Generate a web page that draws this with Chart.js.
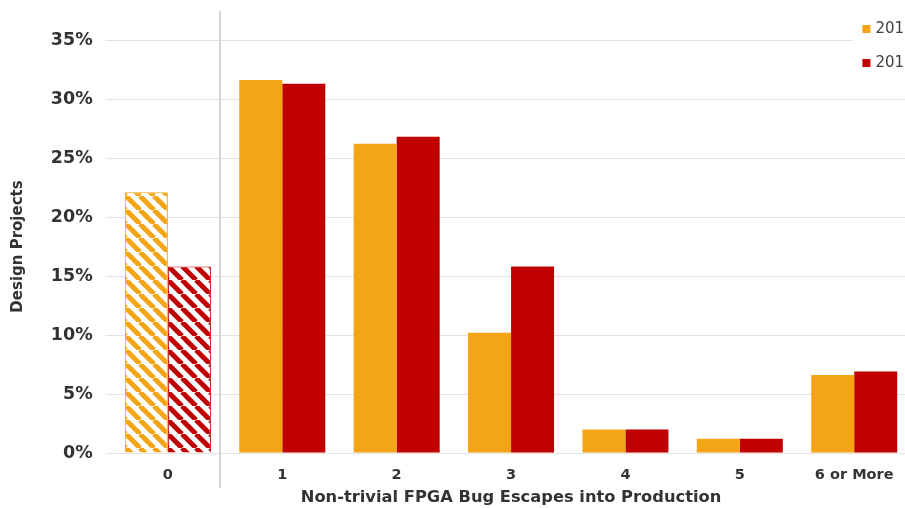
<!DOCTYPE html>
<html>
<head>
<meta charset="utf-8">
<script src="https://cdn.jsdelivr.net/npm/chart.js@4.4.1/dist/chart.umd.min.js"></script>
<style>
  html, body { margin: 0; padding: 0; background: #fff; overflow: hidden; }
  #wrap { width: 930px; height: 508px; position: relative; }
</style>
</head>
<body>
<div id="wrap"><canvas id="c"></canvas></div>
<script>
// Share of design projects by number of non-trivial FPGA bug escapes
const categories = ['0', '1', '2', '3', '4', '5', '6 or More'];
const seriesLabels = ['2016', '2018'];
const values2016 = [22.1, 31.6, 26.2, 10.2, 2.0, 1.2, 6.6];
const values2018 = [15.8, 31.3, 26.8, 15.8, 2.0, 1.2, 6.9];
const yTickValues = [0, 5, 10, 15, 20, 25, 30, 35];

const ORANGE = '#F4A515';
const RED = '#C00000';
const TEXT = '#333333';

Chart.defaults.font.family = "'DejaVu Sans', 'Verdana', sans-serif";

const canvas = document.getElementById('c');
const ctx = canvas.getContext('2d');

// Diagonal white/colour stripes for the "0 escapes" group
function makeHatch(color) {
  const P = 14;
  const c = document.createElement('canvas');
  c.width = P; c.height = P;
  const g = c.getContext('2d');
  g.fillStyle = '#ffffff';
  g.fillRect(0, 0, P, P);
  g.strokeStyle = color;
  g.lineWidth = 5;
  g.beginPath();
  for (const o of [-P, 0, P]) { g.moveTo(o, 0); g.lineTo(o + P, P); }
  g.stroke();
  return ctx.createPattern(c, 'repeat');
}
const hatch2016 = makeHatch(ORANGE);
const hatch2018 = makeHatch(RED);

function barStyle(color, hatch) {
  return {
    backgroundColor: (c) => c.dataIndex === 0 ? hatch : color,
    borderColor: color,
    borderWidth: (c) => c.dataIndex === 0 ? 1 : 0,
    categoryPercentage: 0.752,
    barPercentage: 1.0
  };
}

const decorations = {
  id: 'decorations',
  afterDraw(chart) {
    const { ctx, chartArea, scales: { x } } = chart;
    ctx.save();
    // separator between the zero-escape group and the rest
    const sepX = Math.round((x.getPixelForValue(0) + x.getPixelForValue(1)) / 2) - 5;
    ctx.strokeStyle = '#d6d6d6';
    ctx.lineWidth = 2;
    ctx.beginPath();
    ctx.moveTo(sepX, chartArea.top - 29);
    ctx.lineTo(sepX, chartArea.bottom + 35);
    ctx.stroke();

    // legend, top right
    const lx = chartArea.right - 49;
    ctx.fillStyle = '#ffffff';
    ctx.fillRect(lx - 9, 10, 120, 66);
    ctx.font = "15px 'DejaVu Sans', sans-serif";
    ctx.textBaseline = 'middle';
    ctx.textAlign = 'left';
    chart.data.datasets.forEach((ds, i) => {
      const yy = 29 + i * 34;
      ctx.fillStyle = ds.borderColor;
      ctx.fillRect(lx, yy - 4, 8, 8);
      ctx.fillStyle = '#404040';
      ctx.fillText(ds.label, lx + 13, yy);
    });
    ctx.restore();
  }
};

new Chart(ctx, {
  type: 'bar',
  data: {
    labels: categories,
    datasets: [
      Object.assign({ label: seriesLabels[0], data: values2016 }, barStyle(ORANGE, hatch2016)),
      Object.assign({ label: seriesLabels[1], data: values2018 }, barStyle(RED, hatch2018))
    ]
  },
  options: {
    responsive: true,
    maintainAspectRatio: false,
    animation: false,
    layout: { padding: { left: 0, right: 18.6, top: 40, bottom: 0 } },
    plugins: {
      legend: { display: false },
      tooltip: { enabled: false }
    },
    scales: {
      x: {
        grid: { display: false, drawTicks: false },
        border: { display: false },
        ticks: {
          color: TEXT,
          font: { size: 14.5, weight: 'bold' },
          padding: 14,
          maxRotation: 0,
          autoSkip: false
        },
        title: {
          display: true,
          text: 'Non-trivial FPGA Bug Escapes into Production',
          color: TEXT,
          font: { size: 16.3, weight: 'bold' },
          padding: { top: 0, bottom: 0 }
        },
        afterFit(s) { s.height = 55; }
      },
      y: {
        min: 0,
        max: 35,
        afterBuildTicks(s) { s.ticks = yTickValues.map(v => ({ value: v })); },
        ticks: {
          callback: (v) => v + '%',
          color: TEXT,
          font: { size: 17.5, weight: 'bold' },
          padding: 13
        },
        grid: { color: '#e3e3e3', drawTicks: true, tickLength: 5 },
        border: { display: false },
        title: {
          display: true,
          text: 'Design Projects',
          color: TEXT,
          font: { size: 15, weight: 'bold' },
          padding: { top: 9, bottom: 0 },
          align: 'center'
        },
        afterFit(s) { s.width = 110.7; }
      }
    }
  },
  plugins: [decorations]
});
</script>
</body>
</html>
